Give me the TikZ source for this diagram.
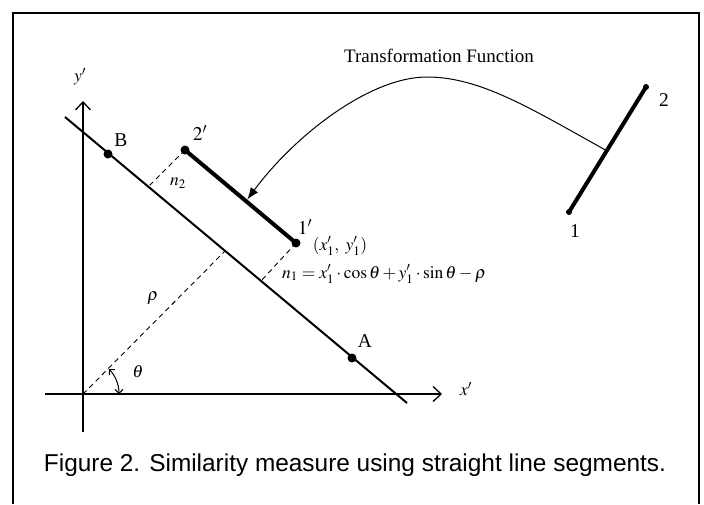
\documentclass[tikz,border=0pt]{standalone}
\usepackage{mathptmx}
\usepackage{fontspec}
\setmainfont{Liberation Serif}
\newfontfamily\capfont{Liberation Sans}
\usetikzlibrary{arrows.meta}
\tikzset{
  lab/.style={inner sep=0pt,font=\fontsize{17.5}{20}\selectfont},
  txt/.style={inner sep=0pt,font=\fontsize{19.5}{22}\selectfont},
  dot/.style={circle,fill,inner sep=0pt,minimum size=9pt},
  enddot/.style={circle,fill,inner sep=0pt,minimum size=6pt},
  perp/.style={dash pattern=on 5pt off 4pt,line width=0.9pt},
  axis/.style={line width=1.3pt,-{Straight Barb[length=8pt,width=15pt]}},
  seg/.style={line width=4pt}
}
\begin{document}
\begin{tikzpicture}[x=1pt,y=-1pt]
\useasboundingbox (0,0) rectangle (704,504);
\draw[line width=1.3pt] (13,504) -- (13,13) -- (699,13) -- (699,504);

\coordinate (O) at (83,394);
\coordinate (xs) at (45,394);
\coordinate (xe) at (442,394);
\coordinate (ys) at (83,432);
\coordinate (ye) at (83,101);
\draw[axis] (xs) -- (xe);
\draw[axis] (ys) -- (ye);
\node[lab] (xlab) at (466,389) {$x'$};
\node[lab] (ylab) at (80,77) {$y'$};

\coordinate (Lt) at (65,117);
\coordinate (Lb) at (407,403);
\draw[line width=2pt] (Lt) -- (Lb);
\node[dot] (B) at (108,154) {};
\node[dot] (A) at (352,358) {};
\node[txt] (Blab) at (121,140) {B};
\node[txt] (Alab) at (365,341) {A};

\node[dot] (P2) at (185,150) {};
\node[dot] (P1) at (296,243) {};
\draw[seg] (P2.center) -- coordinate[pos=0.55] (dst) (P1.center);
\node[txt] (P2lab) at (200,133) {$2'$};
\node[txt] (P1lab) at (305,227) {$1'$};
\node[lab] (P1xy) at (340,246) {$(x'_1,\ y'_1)$};

\coordinate (F2) at (149,186);
\coordinate (F1) at (261,281);
\coordinate (F0) at (225,251);
\draw[perp] (P2.center) -- (F2);
\draw[perp] (P1.center) -- (F1);
\draw[perp] (O) -- (F0);
\node[lab] (n2) at (178,183) {$n_2$};
\node[lab,anchor=west] (n1) at (282,274) {$n_1 = x'_1\cdot\cos\theta + y'_1\cdot\sin\theta - \rho$};
\node[lab] (rho) at (153,298) {$\rho$};

\draw[line width=1pt,{Straight Barb[length=4pt,width=8pt]}-{Straight Barb[length=4pt,width=8pt]}]
  (O) ++(36,0) arc[start angle=0,end angle=-44,radius=36];
\node[lab] (theta) at (138,372) {$\theta$};

\node[enddot] (Q1) at (569,212) {};
\node[enddot] (Q2) at (646,87) {};
\draw[seg] (Q1.center) -- coordinate[pos=0.49] (src) (Q2.center);
\node[txt] (Q1lab) at (575,231) {1};
\node[txt] (Q2lab) at (664,100) {2};

\draw[line width=1pt,-{Latex[length=12pt,width=9pt]},shorten >=2pt]
  (src) .. controls (530,108) and (480,77) .. (427,77)
  .. controls (370,77) and (295,135) .. (dst);
\node[font=\fontsize{19}{22}\selectfont] (tf) at (439,56) {Transformation Function};

\node[font=\capfont\fontsize{24.4}{28}\selectfont] (cap) at (355,465) {Figure 2. Similarity measure using straight line segments.};
\end{tikzpicture}
\end{document}
